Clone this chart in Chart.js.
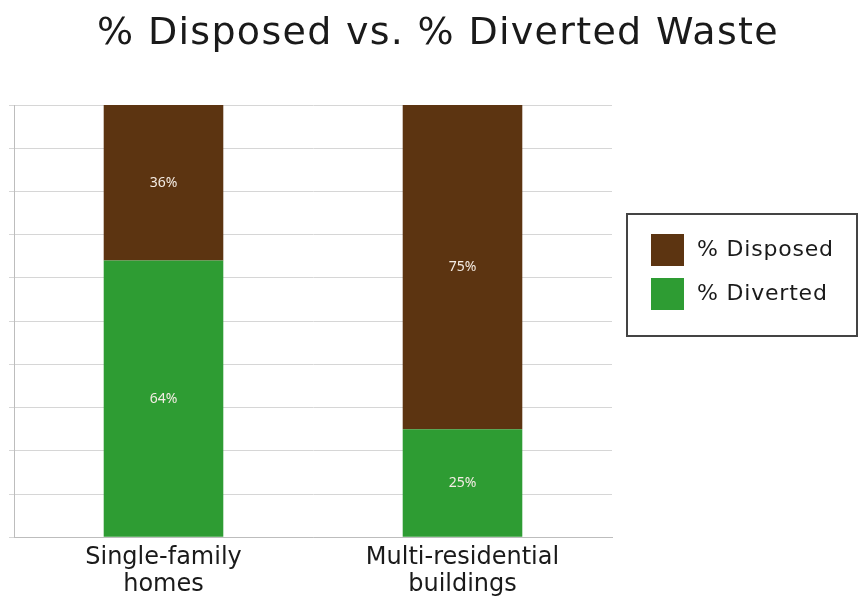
<!DOCTYPE html>
<html>
<head>
<meta charset="utf-8">
<script src="https://cdn.jsdelivr.net/npm/chart.js@4"></script>
<style>
  html, body { margin: 0; padding: 0; background: #fff; }
  #wrap { position: relative; width: 861px; height: 599px; font-family: "DejaVu Sans", sans-serif; color: #1a1a1a; }
  #title { position: absolute; left: 0; width: 876px; top: 9px; text-align: center; font-size: 38px; font-weight: normal; margin: 0; white-space: nowrap; letter-spacing: 1.3px; }
  #legend { position: absolute; left: 626px; top: 213px; width: 228px; height: 120px; border: 2px solid #444; }
  .item { position: absolute; left: 23px; font-size: 22px; line-height: 32px; letter-spacing: 0.8px; }
  .item span { position: absolute; left: 0; top: 0; width: 33px; height: 32px; }
  .item b { font-weight: normal; position: absolute; left: 46px; top: -1px; white-space: nowrap; }
</style>
</head>
<body>
<div id="wrap">
  <h1 id="title">% Disposed vs. % Diverted Waste</h1>
  <canvas id="reportChart" width="861" height="599"></canvas>
  <div id="legend"></div>
</div>
<script>
const categories = [['Single-family', 'homes'], ['Multi-residential', 'buildings']];
const divertedValues = [64, 25];
const disposedValues = [36, 75];
const seriesNames = ['% Disposed', '% Diverted'];

const brown = '#5c3411';
const green = '#2e9c33';

// #### Legend (html, drawn in the same order as the picture)
const legendEl = document.getElementById('legend');
[[seriesNames[0], brown], [seriesNames[1], green]].forEach(([name, color], i) => {
    const row = document.createElement('div');
    row.className = 'item';
    row.style.top = (19 + i * 44) + 'px';
    row.innerHTML = '<span style="background:' + color + '"></span><b>' + name + '</b>';
    legendEl.appendChild(row);
});

// #### Labels inside the bars
const barLabels = {
    id: 'barLabels',
    afterDatasetsDraw(chart) {
        const ctx = chart.ctx;
        ctx.save();
        ctx.font = '14px "Noto Sans", sans-serif';
        ctx.fillStyle = '#f4ece4';
        ctx.textAlign = 'center';
        ctx.textBaseline = 'middle';
        chart.data.datasets.forEach((ds, i) => {
            chart.getDatasetMeta(i).data.forEach((bar, j) => {
                const p = bar.getProps(['x', 'y', 'base'], true);
                ctx.fillText(ds.data[j] + '%', p.x, (p.y + p.base) / 2);
            });
        });
        ctx.restore();
    }
};

const chart = new Chart(document.getElementById('reportChart').getContext('2d'), {
    type: 'bar',
    data: {
        labels: categories,
        datasets: [
            { label: seriesNames[1], data: divertedValues, backgroundColor: green },
            { label: seriesNames[0], data: disposedValues, backgroundColor: brown }
        ]
    },
    options: {
        responsive: false,
        animation: false,
        layout: { padding: { left: 9, right: 249, top: 105, bottom: 2 } },
        datasets: { bar: { categoryPercentage: 1, barPercentage: 0.4 } },
        scales: {
            x: {
                stacked: true,
                grid: { display: false },
                border: { display: true, color: '#bdbdbd' },
                ticks: { color: '#1a1a1a', font: { family: '"DejaVu Sans", sans-serif', size: 24, lineHeight: 1.12 }, padding: -1 }
            },
            y: {
                stacked: true,
                min: 0,
                max: 100,
                ticks: { display: false, stepSize: 10 },
                grid: { color: '#d6d6d6', tickLength: 5 },
                border: { display: true, color: '#bdbdbd' }
            }
        },
        plugins: {
            legend: { display: false },
            tooltip: { enabled: false }
        }
    },
    plugins: [barLabels]
});
</script>
</body>
</html>
